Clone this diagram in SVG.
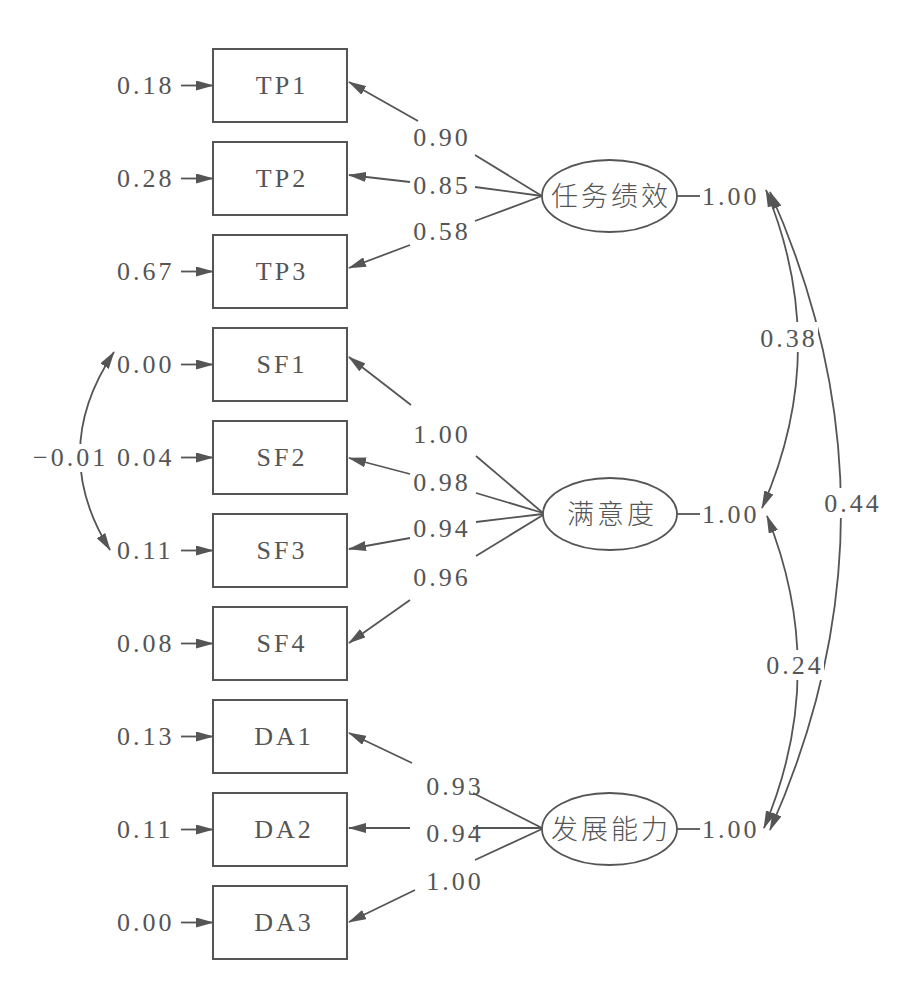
<svg xmlns="http://www.w3.org/2000/svg" width="906" height="984" viewBox="0 0 906 984">
<defs>
<marker id="ah" markerUnits="userSpaceOnUse" markerWidth="18" markerHeight="10" refX="17" refY="5" orient="auto-start-reverse" viewBox="0 0 18 10">
<path d="M0,0 L18,5 L0,10 z" fill="#555"/>
</marker>
<style>
.box{fill:#fff;stroke:#555;stroke-width:2}
.ell{fill:#fff;stroke:#555;stroke-width:1.8}
.ln{fill:none;stroke:#555;stroke-width:1.8}
.arr{fill:none;stroke:#555;stroke-width:1.8;marker-end:url(#ah)}
.dbl{fill:none;stroke:#555;stroke-width:1.8;marker-start:url(#ah);marker-end:url(#ah)}
.t{font-family:"Liberation Serif","Times New Roman",serif;font-size:26px;fill:#555;letter-spacing:3px}
.c{text-anchor:middle}
.cjk{font-family:"Noto Sans CJK SC","Noto Sans CJK JP",sans-serif;font-size:27px;fill:#555;letter-spacing:3px;text-anchor:middle;font-weight:300}
</style>
</defs>
<rect width="906" height="984" fill="#fff"/>

<g id="connectors">
<line class="arr" x1="181" y1="85.5" x2="213" y2="85.5"/>
<line class="arr" x1="181" y1="178.5" x2="213" y2="178.5"/>
<line class="arr" x1="181" y1="271.5" x2="213" y2="271.5"/>
<line class="arr" x1="181" y1="364.5" x2="213" y2="364.5"/>
<line class="arr" x1="181" y1="457.5" x2="213" y2="457.5"/>
<line class="arr" x1="181" y1="550.5" x2="213" y2="550.5"/>
<line class="arr" x1="181" y1="643.5" x2="213" y2="643.5"/>
<line class="arr" x1="181" y1="736.5" x2="213" y2="736.5"/>
<line class="arr" x1="181" y1="829.5" x2="213" y2="829.5"/>
<line class="arr" x1="181" y1="922.5" x2="213" y2="922.5"/>
<path class="arr" d="M418,121 L349,82"/>
<path class="ln" d="M475,155 L542,196"/>
<path class="arr" d="M410,182 L349,175"/>
<path class="ln" d="M475,187 L542,196"/>
<path class="arr" d="M410,245 L349,268"/>
<path class="ln" d="M475,221 L542,196"/>
<path class="arr" d="M411,405 L349,357"/>
<path class="ln" d="M476,456 L543,513"/>
<path class="arr" d="M410,474 L349,458"/>
<path class="ln" d="M476,493 L543,513"/>
<path class="arr" d="M410,538 L349,549"/>
<path class="ln" d="M476,522 L543,514"/>
<path class="arr" d="M410,600 L349,643"/>
<path class="ln" d="M476,556 L543,515"/>
<path class="arr" d="M412,763 L349,733"/>
<path class="ln" d="M473,793 L542,828"/>
<path class="arr" d="M410,828 L349,828"/>
<path class="ln" d="M473,828 L542,828"/>
<path class="arr" d="M415,890 L349,922"/>
<path class="ln" d="M475,860 L542,829"/>
<line class="ln" x1="677" y1="196" x2="700" y2="196"/>
<line class="ln" x1="677" y1="514" x2="700" y2="514"/>
<line class="ln" x1="677" y1="829" x2="700" y2="829"/>
<path class="dbl" d="M114,352 Q48,451 110,550"/>
<path class="dbl" d="M766,190 Q832,350 762,508"/>
<path class="dbl" d="M767,516 Q830,672 764,828"/>
<path class="dbl" d="M770,192 Q912,511 770,830"/>
<rect x="31" y="444" width="78" height="28" fill="#fff"/>
<rect x="756" y="322" width="62" height="30" fill="#fff"/>
<rect x="764" y="650" width="60" height="30" fill="#fff"/>
<rect x="822" y="488" width="60" height="30" fill="#fff"/>
</g>

<g id="labels">
<text class="t" x="117" y="93.5">0.18</text>
<text class="t" x="117" y="186.5">0.28</text>
<text class="t" x="117" y="279.5">0.67</text>
<text class="t" x="117" y="372.5">0.00</text>
<text class="t" x="117" y="465.5">0.04</text>
<text class="t" x="117" y="558.5">0.11</text>
<text class="t" x="117" y="651.5">0.08</text>
<text class="t" x="117" y="744.5">0.13</text>
<text class="t" x="117" y="837.5">0.11</text>
<text class="t" x="117" y="930.5">0.00</text>
<text class="t" x="33" y="466">−0.01</text>
<text class="t c" x="442" y="146">0.90</text>
<text class="t c" x="442" y="194">0.85</text>
<text class="t c" x="442" y="240">0.58</text>
<text class="t c" x="442" y="443">1.00</text>
<text class="t c" x="442" y="491">0.98</text>
<text class="t c" x="442" y="537">0.94</text>
<text class="t c" x="442" y="586">0.96</text>
<text class="t c" x="455" y="795">0.93</text>
<text class="t c" x="455" y="842">0.94</text>
<text class="t c" x="455" y="890">1.00</text>
<text class="t" x="702" y="205">1.00</text>
<text class="t" x="702" y="523">1.00</text>
<text class="t" x="702" y="838">1.00</text>
<text class="t c" x="789" y="347">0.38</text>
<text class="t c" x="795" y="674">0.24</text>
<text class="t c" x="853" y="512">0.44</text>
</g>

<g id="TP1"><rect class="box" x="213" y="49" width="134" height="73"/><text class="t c" x="282" y="94">TP1</text></g>
<g id="TP2"><rect class="box" x="213" y="142" width="134" height="73"/><text class="t c" x="282" y="187">TP2</text></g>
<g id="TP3"><rect class="box" x="213" y="235" width="134" height="73"/><text class="t c" x="282" y="280">TP3</text></g>
<g id="SF1"><rect class="box" x="213" y="328" width="134" height="73"/><text class="t c" x="282" y="373">SF1</text></g>
<g id="SF2"><rect class="box" x="213" y="421" width="134" height="73"/><text class="t c" x="282" y="466">SF2</text></g>
<g id="SF3"><rect class="box" x="213" y="514" width="134" height="73"/><text class="t c" x="282" y="559">SF3</text></g>
<g id="SF4"><rect class="box" x="213" y="607" width="134" height="73"/><text class="t c" x="282" y="652">SF4</text></g>
<g id="DA1"><rect class="box" x="213" y="700" width="134" height="73"/><text class="t c" x="284" y="745">DA1</text></g>
<g id="DA2"><rect class="box" x="213" y="793" width="134" height="73"/><text class="t c" x="284" y="838">DA2</text></g>
<g id="DA3"><rect class="box" x="213" y="886" width="134" height="73"/><text class="t c" x="284" y="931">DA3</text></g>

<g id="TP"><ellipse class="ell" cx="609.5" cy="196" rx="67.5" ry="36"/><text class="cjk" x="611" y="206">任务绩效</text></g>
<g id="SF"><ellipse class="ell" cx="610" cy="514" rx="67" ry="36"/><text class="cjk" x="612" y="524">满意度</text></g>
<g id="DA"><ellipse class="ell" cx="609.5" cy="829" rx="67.5" ry="36"/><text class="cjk" x="611" y="839">发展能力</text></g>
</svg>
